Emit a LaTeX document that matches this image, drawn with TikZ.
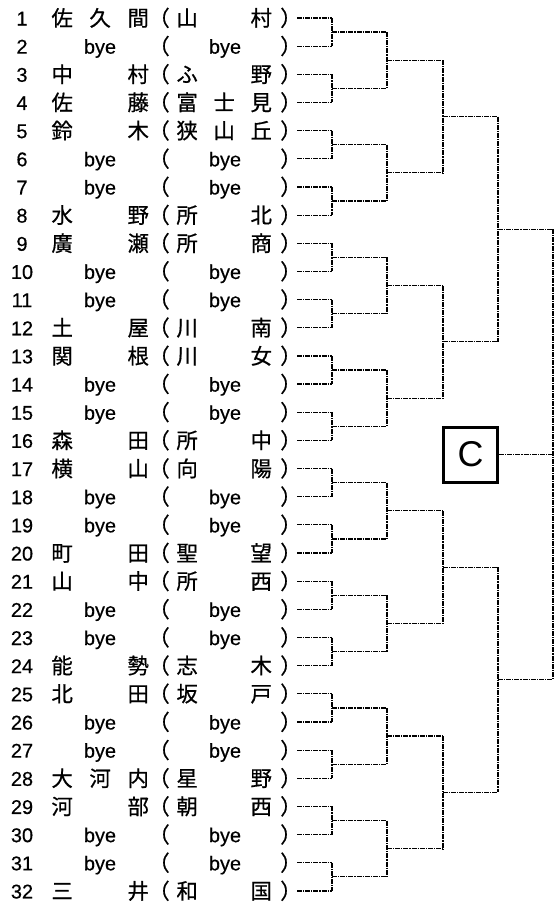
\documentclass[tikz,border=0pt]{standalone}
\usepackage{fontspec}
\setmainfont{Liberation Sans}
\newfontfamily\jp[FakeBold=0.6]{Noto Sans CJK JP}
\newfontfamily\lat[FakeBold=0.4]{Liberation Sans}
\tikzset{
  num/.style={font=\lat\fontsize{20}{20}\selectfont, inner sep=0pt, anchor=base},
  jpt/.style={font=\jp\fontsize{21.5}{22}\selectfont, inner sep=0pt, anchor=base west},
  par/.style={font=\jp\fontsize{21.5}{22}\selectfont, inner sep=0pt, anchor=base},
  ln/.style={line width=1.2bp, dash pattern=on 5bp off 1bp on 1.2bp off 1bp},
  cbox/.style={draw, line width=3bp, minimum width=54bp, minimum height=55bp, inner sep=0pt, font=\fontsize{36}{36}\selectfont}
}
\begin{document}
\begin{tikzpicture}[x=1bp,y=-1bp]
\useasboundingbox (0,0) rectangle (555,904);
% rows: numbers, parentheses, connector start points
\foreach \i in {1,...,32} {
  \pgfmathsetmacro\yy{18+(\i-1)*28.16}
  \node[num] (n\i) at (22,\yy+7.5) {\i};
  \node[par] (lp\i) at (159,\yy+8) {（};
  \node[par] (rp\i) at (291,\yy+8) {）};
  \coordinate (e\i) at (297,\yy);
  \coordinate (h0-\i) at (332,\yy);
  \draw[ln] (e\i) -- (h0-\i);
}
% named entries
\foreach \i/\a/\b in {1/佐\hfill 久\hfill 間/山\hfill 村, 3/中\hfill 村/ふ\hfill 野,
  4/佐\hfill 藤/富\hfill 士\hfill 見, 5/鈴\hfill 木/狭\hfill 山\hfill 丘, 8/水\hfill 野/所\hfill 北,
  9/廣\hfill 瀬/所\hfill 商, 12/土\hfill 屋/川\hfill 南, 13/関\hfill 根/川\hfill 女,
  16/森\hfill 田/所\hfill 中, 17/横\hfill 山/向\hfill 陽, 20/町\hfill 田/聖\hfill 望,
  21/山\hfill 中/所\hfill 西, 24/能\hfill 勢/志\hfill 木, 25/北\hfill 田/坂\hfill 戸,
  28/大\hfill 河\hfill 内/星\hfill 野, 29/河\hfill 部/朝\hfill 西, 32/三\hfill 井/和\hfill 国} {
  \pgfmathsetmacro\yy{18+(\i-1)*28.16}
  \node[jpt] (nm\i) at (51.25,\yy+8) {\makebox[97.5bp]{\a}};
  \node[jpt] (sc\i) at (176.25,\yy+8) {\makebox[95.5bp]{\b}};
}
% byes
\foreach \i in {2,6,7,10,11,14,15,18,19,22,23,26,27,30,31} {
  \pgfmathsetmacro\yy{18+(\i-1)*28.16}
  \node[num] (nm\i) at (100,\yy+7.5) {bye};
  \node[num] (sc\i) at (225,\yy+7.5) {bye};
}
% first-round verticals
\foreach \g in {1,...,16} {
  \pgfmathtruncatemacro\a{2*\g-1}
  \pgfmathtruncatemacro\b{2*\g}
  \draw[ln] (h0-\a) -- (h0-\b);
}
% later rounds
\foreach \L/\xa/\xb/\n in {1/332/387/16, 2/387/443/8, 3/443/498/4, 4/498/553/2} {
  \foreach \g in {1,...,\n} {
    \pgfmathsetmacro\mid{18+((\g-1)*2^\L+(2^\L-1)/2)*28.16}
    \coordinate (j\L-\g) at (\xa,\mid);
    \coordinate (h\L-\g) at (\xb,\mid);
    \draw[ln] (j\L-\g) -- (h\L-\g);
  }
  \pgfmathtruncatemacro\m{\n/2}
  \foreach \g in {1,...,\m} {
    \pgfmathtruncatemacro\a{2*\g-1}
    \pgfmathtruncatemacro\b{2*\g}
    \draw[ln] (h\L-\a) -- (h\L-\b);
  }
}
\node[cbox] (C) at (470.5,454.5) {C};
\coordinate (j5) at (553,454.5);
\draw[ln] (C.east) -- (j5);
\end{tikzpicture}
\end{document}
